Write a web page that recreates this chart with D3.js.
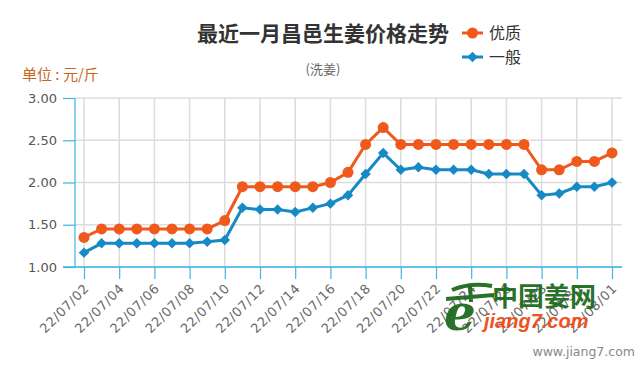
<!DOCTYPE html>
<html>
<head>
<meta charset="utf-8">
<script src="https://cdn.jsdelivr.net/npm/d3@7"></script>
<style>
body { margin: 0; background: #fff; }
svg { display: block; font-family: "DejaVu Sans", Verdana, sans-serif; }
.cjk { font-family: "Noto Sans CJK SC", "Noto Sans", sans-serif; }
</style>
</head>
<body>
<script>
// data
let dates = ["22/07/02", "22/07/03", "22/07/04", "22/07/05", "22/07/06", "22/07/07", "22/07/08",
    "22/07/09", "22/07/10", "22/07/11", "22/07/12", "22/07/13", "22/07/14", "22/07/15", "22/07/16",
    "22/07/17", "22/07/18", "22/07/19", "22/07/20", "22/07/21", "22/07/22", "22/07/23", "22/07/24",
    "22/07/25", "22/07/26", "22/07/27", "22/07/28", "22/07/29", "22/07/30", "22/07/31", "22/08/01"];
let youzhi = [1.35, 1.45, 1.45, 1.45, 1.45, 1.45, 1.45, 1.45, 1.55, 1.95, 1.95, 1.95, 1.95, 1.95, 2.00,
    2.12, 2.45, 2.65, 2.45, 2.45, 2.45, 2.45, 2.45, 2.45, 2.45, 2.45, 2.15, 2.15, 2.25, 2.25, 2.35];
let yiban = [1.17, 1.28, 1.28, 1.28, 1.28, 1.28, 1.28, 1.30, 1.32, 1.70, 1.68, 1.68, 1.65, 1.70, 1.75,
    1.85, 2.10, 2.35, 2.15, 2.18, 2.15, 2.15, 2.15, 2.10, 2.10, 2.10, 1.85, 1.87, 1.95, 1.95, 2.00];
let yTicks = [1.00, 1.50, 2.00, 2.50, 3.00];
let xTicks = dates.filter((d, i) => i % 2 == 0);
let seriesNames = ["优质", "一般"];

let svgWidth = 640;
let svgHeight = 370;
let orange = "#ef5a1c";
let blue = "#1689c6";
let axisBlue = "#3bb5e6";

let svg = d3.select("body")
    .append("svg")
    .attr("width", svgWidth)
    .attr("height", svgHeight)

let plot = { left: 75, right: 622, top: 98, bottom: 267 }

let x = d3.scalePoint()
    .domain(dates)
    .range([84, 612]);

let y = d3.scaleLinear()
    .domain([1, 3])
    .range([plot.bottom, plot.top]);

// grid
svg.append("g")
    .selectAll("line")
    .data(yTicks)
    .enter()
    .append("line")
    .attr("x1", plot.left)
    .attr("x2", plot.right)
    .attr("y1", d => y(d))
    .attr("y2", d => y(d))
    .attr("stroke", "#dcdcdc")
    .attr("stroke-width", 1.5)

svg.append("g")
    .selectAll("line")
    .data(xTicks)
    .enter()
    .append("line")
    .attr("x1", d => x(d))
    .attr("x2", d => x(d))
    .attr("y1", plot.top)
    .attr("y2", plot.bottom)
    .attr("stroke", "#dcdcdc")
    .attr("stroke-width", 1.5)

// axes
let leftAxis = d3.axisLeft(y)
    .tickValues(yTicks)
    .tickFormat(d3.format(".2f"))
    .tickSize(12)
    .tickPadding(6);

let yAxis = svg.append("g")
    .attr("transform", `translate(${plot.left},0)`)
    .call(leftAxis)
yAxis.select(".domain").remove();
yAxis.selectAll("line").attr("stroke", axisBlue).attr("stroke-width", 1.2);
yAxis.selectAll("text")
    .attr("fill", "#555")
    .attr("font-size", "13px")
    .attr("font-family", "DejaVu Sans, sans-serif");

svg.append("line")
    .attr("x1", plot.left).attr("x2", plot.left)
    .attr("y1", plot.top).attr("y2", plot.bottom)
    .attr("stroke", axisBlue).attr("stroke-width", 1.2)

let bottomAxis = d3.axisBottom(x)
    .tickValues(xTicks)
    .tickSize(12);

let xAxis = svg.append("g")
    .attr("transform", `translate(0,${plot.bottom})`)
    .call(bottomAxis)
xAxis.select(".domain").remove();
xAxis.selectAll("line").attr("stroke", axisBlue).attr("stroke-width", 1.2);
xAxis.selectAll("text")
    .attr("fill", "#666")
    .attr("font-size", "13px")
    .attr("font-family", "DejaVu Sans, sans-serif")
    .attr("letter-spacing", "0.6px")
    .attr("text-anchor", "end")
    .attr("x", -12)
    .attr("y", 15)
    .attr("dy", "0.35em")
    .attr("transform", "rotate(-45)");

svg.append("line")
    .attr("x1", 63).attr("x2", plot.right)
    .attr("y1", plot.bottom).attr("y2", plot.bottom)
    .attr("stroke", axisBlue).attr("stroke-width", 1.5)

// lines
let line = d3.line()
    .x((d, i) => x(dates[i]))
    .y(d => y(d));

svg.append("path")
    .datum(youzhi)
    .attr("d", line)
    .attr("fill", "none")
    .attr("stroke", orange)
    .attr("stroke-width", 3)

svg.append("path")
    .datum(yiban)
    .attr("d", line)
    .attr("fill", "none")
    .attr("stroke", blue)
    .attr("stroke-width", 3)

svg.append("g")
    .selectAll("circle")
    .data(youzhi)
    .enter()
    .append("circle")
    .attr("cx", (d, i) => x(dates[i]))
    .attr("cy", d => y(d))
    .attr("r", 5.5)
    .attr("fill", orange)

let diamond = d3.symbol().type(d3.symbolDiamond2).size(70);

svg.append("g")
    .selectAll("path")
    .data(yiban)
    .enter()
    .append("path")
    .attr("d", diamond)
    .attr("transform", (d, i) => `translate(${x(dates[i])},${y(d)})`)
    .attr("fill", blue)

// title
svg.append("text")
    .attr("class", "cjk")
    .attr("x", 323)
    .attr("y", 41)
    .attr("text-anchor", "middle")
    .attr("font-size", "21px")
    .attr("font-weight", "bold")
    .attr("fill", "#333")
    .text("最近一月昌邑生姜价格走势");

svg.append("text")
    .attr("class", "cjk")
    .attr("x", 323)
    .attr("y", 74)
    .attr("text-anchor", "middle")
    .attr("font-size", "13px")
    .attr("fill", "#666")
    .text("(洗姜)");

svg.append("text")
    .attr("class", "cjk")
    .attr("x", 22)
    .attr("y", 80)
    .attr("font-size", "15px")
    .attr("fill", "#c9651c")
    .text("单位 : 元/斤");

// legend
let legend = svg.append("g")
    .selectAll("g")
    .data(seriesNames)
    .enter()
    .append("g")
    .attr("transform", (d, i) => `translate(462,${33 + i * 24})`)

legend.append("line")
    .attr("x1", 0).attr("x2", 21)
    .attr("stroke", (d, i) => i == 0 ? orange : blue)
    .attr("stroke-width", 3)

legend.append("path")
    .attr("d", (d, i) => i == 0 ? d3.symbol().type(d3.symbolCircle).size(95)() : diamond())
    .attr("transform", "translate(10.5,0)")
    .attr("fill", (d, i) => i == 0 ? orange : blue)

legend.append("text")
    .attr("class", "cjk")
    .attr("x", 27)
    .attr("dy", "0.35em")
    .attr("font-size", "16px")
    .attr("fill", "#333")
    .text(d => d);

// watermark
let wm = svg.append("g").attr("opacity", 0.95)
wm.append("text")
    .attr("x", 444).attr("y", 330)
    .attr("font-family", "DejaVu Serif, serif")
    .attr("font-weight", "bold")
    .attr("font-style", "italic")
    .attr("font-size", "50px")
    .attr("fill", "#1e6b1e")
    .text("e");
wm.append("path")
    .attr("d", "M452,290 Q470,282 492,286 M446,299 L494,295 M470,285 L471,302")
    .attr("stroke", "#1e6b1e").attr("stroke-width", 4).attr("fill", "none")
wm.append("text")
    .attr("class", "cjk")
    .attr("x", 492).attr("y", 306)
    .attr("font-size", "26px")
    .attr("fill", "#1e6b1e")
    .attr("font-weight", "bold")
    .text("中国姜网");
wm.append("text")
    .attr("x", 484).attr("y", 328)
    .attr("font-family", "Liberation Sans, Arial, sans-serif")
    .attr("font-size", "20px")
    .attr("font-weight", "bold")
    .attr("font-style", "italic")
    .attr("fill", "#f04a14")
    .text("jiang7.com");

svg.append("text")
    .attr("x", 635)
    .attr("y", 356)
    .attr("text-anchor", "end")
    .attr("font-family", "DejaVu Sans, sans-serif")
    .attr("font-size", "12.5px")
    .attr("fill", "#888")
    .text("www.jiang7.com");
</script>
</body>
</html>
